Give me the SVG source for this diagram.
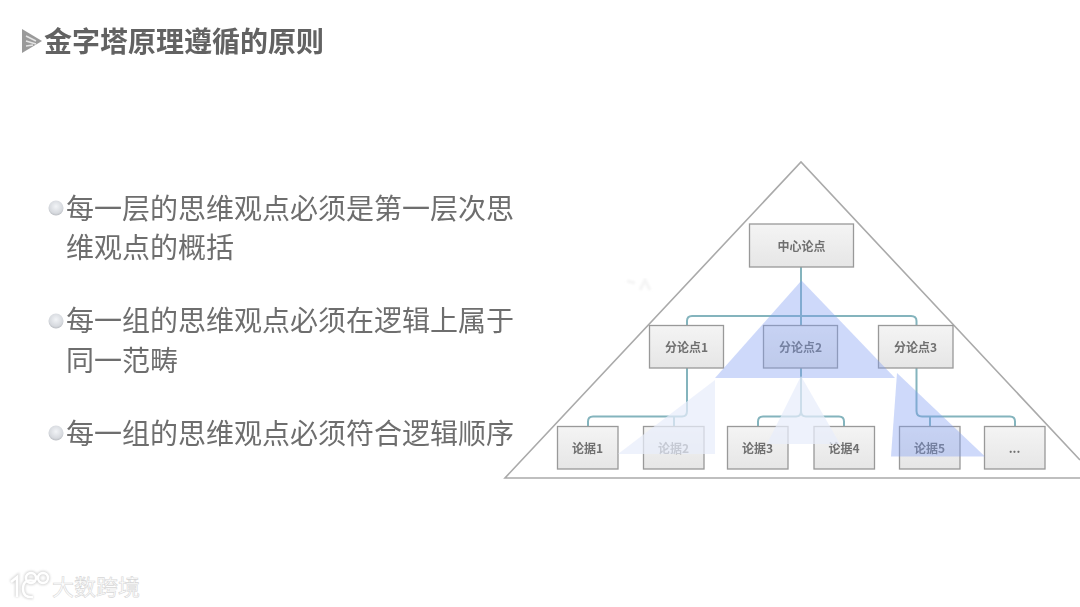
<svg xmlns="http://www.w3.org/2000/svg" width="1080" height="607" viewBox="0 0 1080 607">
<style>
text{font-family:"Noto Sans CJK SC","Noto Sans",sans-serif}
.title{font-size:28px;font-weight:700;fill:#626262}
.body{font-size:28px;fill:#6e6e6e}
.box{fill:url(#boxg);stroke:#999;stroke-width:1.3}
.lbl{font-size:12px;font-weight:700;fill:#707070;text-anchor:middle;dominant-baseline:central}
.conn{fill:none;stroke:#84b4bd;stroke-width:2}
.bullet{fill:url(#bul)}
.wm{font-size:22px;fill:#fff;stroke:#d6d6d6;stroke-width:.6}
</style>
<defs>
<linearGradient id="boxg" x1="0" y1="0" x2="0" y2="1"><stop offset="0" stop-color="#f4f4f4"/><stop offset="1" stop-color="#e6e6e6"/></linearGradient>
<radialGradient id="bul" cx=".5" cy=".4" r=".65"><stop offset="0" stop-color="#f2f4f7"/><stop offset=".7" stop-color="#d6d9de"/><stop offset="1" stop-color="#b0b3b8"/></radialGradient>
<filter id="soft" x="-5%" y="-5%" width="110%" height="110%"><feGaussianBlur stdDeviation=".5"/></filter>
<filter id="soft2" x="-20%" y="-20%" width="140%" height="140%"><feGaussianBlur stdDeviation="1.2"/></filter>
</defs>
<rect width="1080" height="607" fill="#fff"/>
<g id="title" filter="url(#soft)">
<path d="M22 29L42 41L22 53Z" fill="#9a9a9a"/>
<path d="M26 36L36 41M26 41L36 44M26 46L33 45" stroke="#e4e4e4" stroke-width="1.6" fill="none"/>
<text class="title" x="44" y="51.500">金字塔原理遵循的原则</text>
</g>
<g id="points" filter="url(#soft)">
<circle class="bullet" cx="56" cy="208" r="7.500"/>
<text class="body" x="66" y="219">每一层的思维观点必须是第一层次思</text>
<text class="body" x="66" y="258">维观点的概括</text>
<circle class="bullet" cx="56" cy="321" r="7.500"/>
<text class="body" x="66" y="331">每一组的思维观点必须在逻辑上属于</text>
<text class="body" x="66" y="371">同一范畴</text>
<circle class="bullet" cx="56" cy="433" r="7.500"/>
<text class="body" x="66" y="444">每一组的思维观点必须符合逻辑顺序</text>
</g>
<g id="pyramid" filter="url(#soft)">
<path d="M1080 460L801 162L505 478L1080 478" fill="none" stroke="#aaa" stroke-width="1.600"/>
</g>
<path d="M627 281L635 283M640 290L645 280L650 290" fill="none" stroke="#f4f4f4" stroke-width="3" filter="url(#soft2)"/>
<g id="connectors" filter="url(#soft)">
<path class="conn" d="M801 267V325M687 325V321Q687 316 692 316H911Q916.500 316 916.500 321V325"/>
<path class="conn" d="M687 368V411Q687 416.500 682 416.500H593Q588 416.500 588 421.500V426M674 416.500V426"/>
<path class="conn" d="M801 368V411Q801 416.500 796 416.500H763Q758 416.500 758 421.500V426M801 411Q801 416.500 806 416.500H839Q844 416.500 844 421.500V426"/>
<path class="conn" d="M916.500 368V411Q916.500 416.500 922 416.500H1010Q1015 416.500 1015 421.500V426M930 416.500V426"/>
</g>
<g filter="url(#soft)">
<g id="n0"><rect class="box" x="749.500" y="224" width="104" height="43"/><text class="lbl" x="801.500" y="245">中心论点</text></g>
<g id="n1"><rect class="box" x="649.500" y="325.500" width="74" height="42.500"/><text class="lbl" x="686.500" y="346.500">分论点1</text></g>
<g id="n2"><rect class="box" x="763.500" y="325.500" width="74" height="42.500"/><text class="lbl" x="800.500" y="346.500">分论点2</text></g>
<g id="n3"><rect class="box" x="878.500" y="325.500" width="74.500" height="42.500"/><text class="lbl" x="915.500" y="346.500">分论点3</text></g>
<g id="n4"><rect class="box" x="557.500" y="426.500" width="60.500" height="42.500"/><text class="lbl" x="587.500" y="447.500">论据1</text></g>
<g id="n5"><rect class="box" x="643.500" y="426.500" width="60.500" height="42.500"/><text class="lbl" x="673.500" y="447.500">论据2</text></g>
<g id="n6"><rect class="box" x="727.500" y="426.500" width="60.500" height="42.500"/><text class="lbl" x="757.500" y="447.500">论据3</text></g>
<g id="n7"><rect class="box" x="814" y="426.500" width="60.500" height="42.500"/><text class="lbl" x="844" y="447.500">论据4</text></g>
<g id="n8"><rect class="box" x="899.500" y="426.500" width="60.500" height="42.500"/><text class="lbl" x="929.500" y="447.500">论据5</text></g>
<g id="n9"><rect class="box" x="984.500" y="426.500" width="60.500" height="42.500"/><text class="lbl" x="1014.500" y="447.500">...</text></g>
</g>
<g id="highlights" filter="url(#soft)">
<path d="M801.500 280.500L895 378H715Z" fill="#7f9cf2" fill-opacity=".38"/>
<path d="M897 373L985 456.500H891Z" fill="#7f9cf2" fill-opacity=".38"/>
<path d="M715 380V454H618Z" fill="#e8edfb" fill-opacity=".72"/>
<path d="M801 376L840 444H767Z" fill="#e8edfb" fill-opacity=".72"/>
</g>
<g id="watermark">
<g fill="none" stroke="#d8d8d8" stroke-width="4.500" filter="url(#soft2)"><path d="M11 582L17 577V597M35 581Q23 578 23 589Q23 598 33 597"/><circle cx="31" cy="578" r="5"/><circle cx="43" cy="578" r="5"/></g>
<g fill="none" stroke="#fff" stroke-width="2.400"><path d="M11 582L17 577V597M35 581Q23 578 23 589Q23 598 33 597"/><circle cx="31" cy="578" r="5"/><circle cx="43" cy="578" r="5"/></g>
<text class="wm" x="52" y="595">大数跨境</text>
</g>
</svg>
